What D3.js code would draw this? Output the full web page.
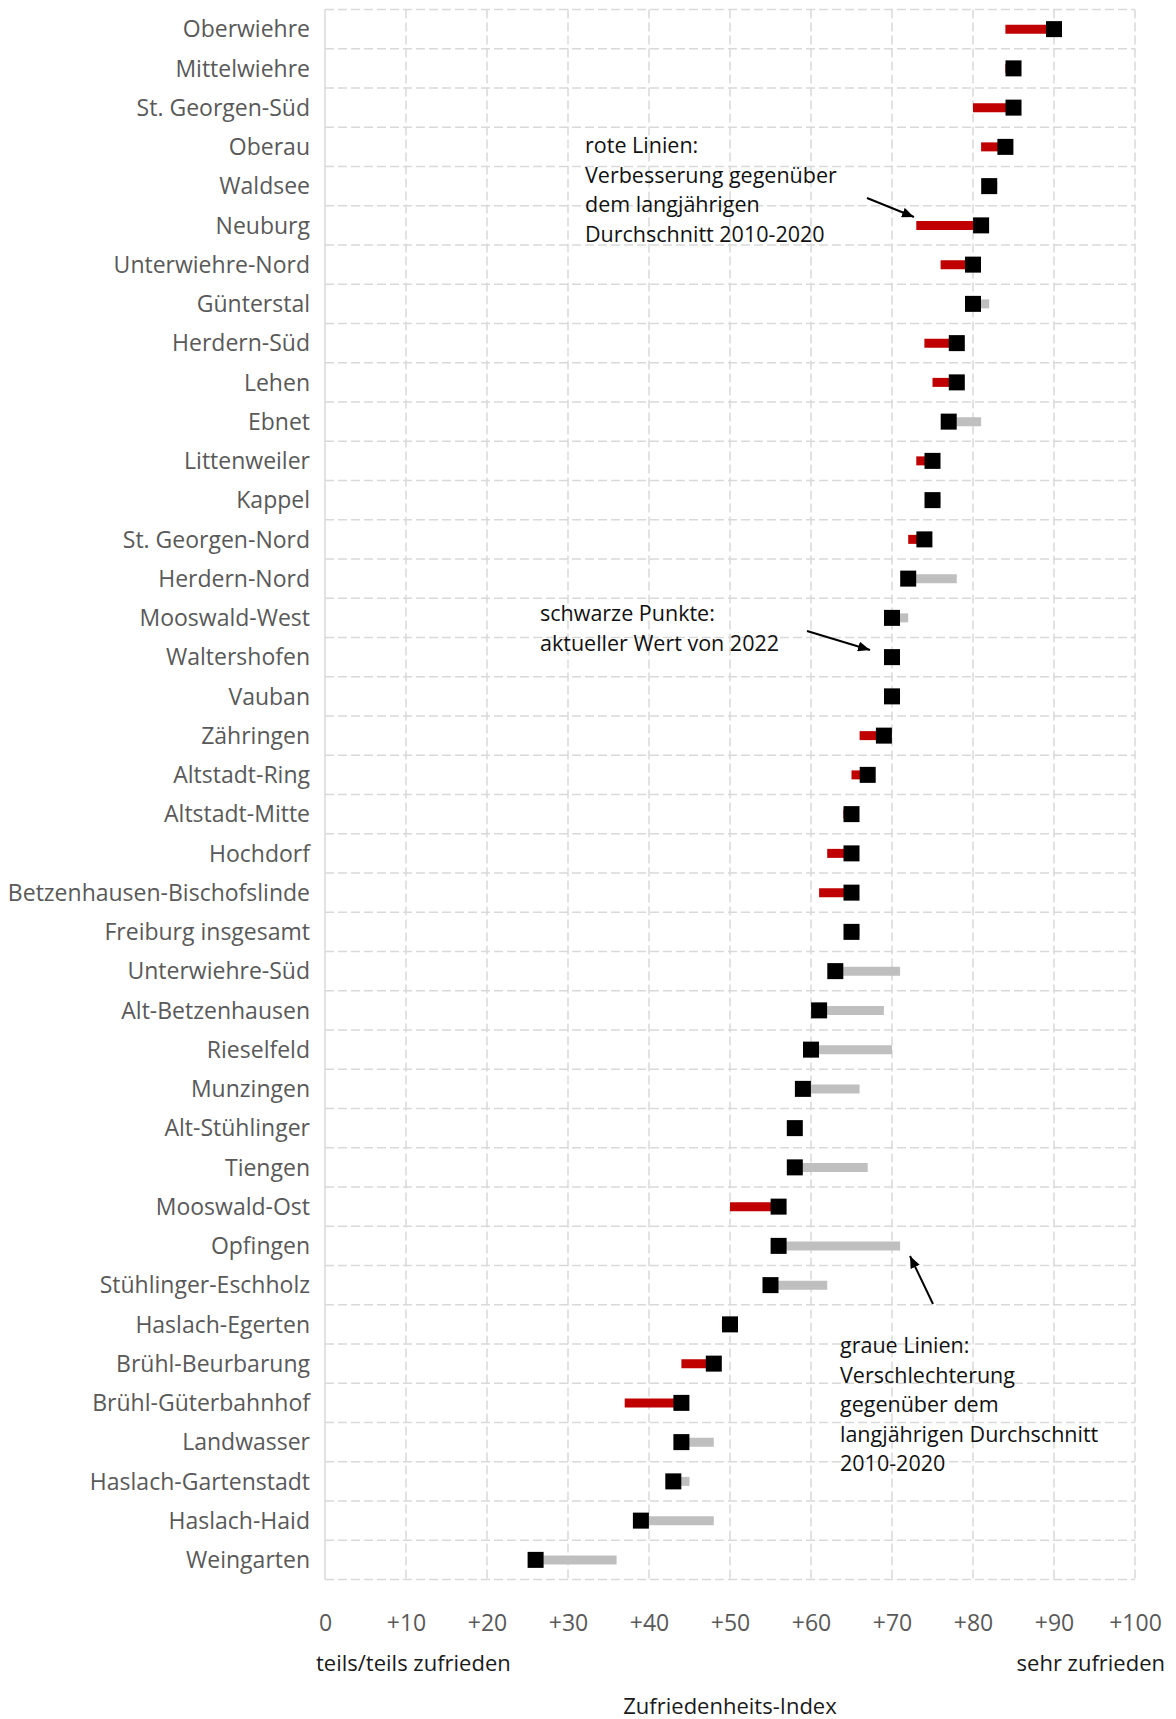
<!DOCTYPE html>
<html>
<head>
<meta charset="utf-8">
<script src="https://cdn.jsdelivr.net/npm/d3@7"></script>
<style>
body { margin: 0; background: #fff; }
svg text { font-family: "Open Sans", sans-serif; }
</style>
</head>
<body>
<div id="chart"></div>
<script>
// Stadtbezirke, sorted as in the chart
var categories = [
	"Oberwiehre", "Mittelwiehre", "St. Georgen-Süd", "Oberau", "Waldsee",
	"Neuburg", "Unterwiehre-Nord", "Günterstal", "Herdern-Süd", "Lehen",
	"Ebnet", "Littenweiler", "Kappel", "St. Georgen-Nord", "Herdern-Nord",
	"Mooswald-West", "Waltershofen", "Vauban", "Zähringen", "Altstadt-Ring",
	"Altstadt-Mitte", "Hochdorf", "Betzenhausen-Bischofslinde", "Freiburg insgesamt", "Unterwiehre-Süd",
	"Alt-Betzenhausen", "Rieselfeld", "Munzingen", "Alt-Stühlinger", "Tiengen",
	"Mooswald-Ost", "Opfingen", "Stühlinger-Eschholz", "Haslach-Egerten", "Brühl-Beurbarung",
	"Brühl-Güterbahnhof", "Landwasser", "Haslach-Gartenstadt", "Haslach-Haid", "Weingarten"
];

// aktueller Wert 2022 (schwarze Punkte)
var current_2022 = [
	90, 85, 85, 84, 82,
	81, 80, 80, 78, 78,
	77, 75, 75, 74, 72,
	70, 70, 70, 69, 67,
	65, 65, 65, 65, 63,
	61, 60, 59, 58, 58,
	56, 56, 55, 50, 48,
	44, 44, 43, 39, 26
];

// langjähriger Durchschnitt 2010-2020
var average_2010_2020 = [
	84, 84, 80, 81, 83,
	73, 76, 82, 74, 75,
	81, 73, 76, 72, 78,
	72, 70, 71, 66, 65,
	64, 62, 61, 66, 71,
	69, 70, 66, 58, 67,
	50, 71, 62, 49, 44,
	37, 48, 45, 48, 36
];

var x_ticks = [0, 10, 20, 30, 40, 50, 60, 70, 80, 90, 100];
var x_tick_labels = ["0", "+10", "+20", "+30", "+40", "+50", "+60", "+70", "+80", "+90", "+100"];

var width = 1176;
var height = 1719;

var plot_left = 325;
var plot_right = 1135;
var plot_top = 9.5;
var plot_bottom = 1579.5;

var grid_color = "#d9d9d9";
var red = "#c00000";
var grey = "#bfbfbf";
var marker_size = 16;
var line_width = 9;

var rows = categories.map(function(c, i) {
	return {name: c, now: current_2022[i], avg: average_2010_2020[i]};
});

var svg = d3.select("#chart")
	.append("svg")
	.attr("width", width)
	.attr("height", height);

var x = d3.scaleLinear().domain([0, 100]).range([plot_left, plot_right]);
var y = d3.scaleBand().domain(categories).range([plot_top, plot_bottom]);

var defs = svg.append("defs");
defs.append("marker")
	.attr("id", "arrow")
	.attr("viewBox", "0 0 12 10")
	.attr("refX", 12)
	.attr("refY", 5)
	.attr("markerWidth", 12)
	.attr("markerHeight", 10)
	.attr("markerUnits", "userSpaceOnUse")
	.attr("orient", "auto")
	.append("path")
	.attr("d", "M0,0 L12,5 L0,10 Z")
	.attr("fill", "#000");

// grid
var grid = svg.append("g").attr("class", "grid");

var row_lines = d3.range(categories.length + 1).map(function(i) {
	return plot_top + i * y.step();
});

grid.selectAll(".hline").data(row_lines)
	.enter().append("line")
	.attr("class", "hline")
	.attr("x1", plot_left)
	.attr("x2", plot_right)
	.attr("y1", function(d) { return d; })
	.attr("y2", function(d) { return d; })
	.style("stroke", grid_color)
	.style("stroke-width", 1.5)
	.style("stroke-dasharray", "9,4");

grid.selectAll(".vline").data(x_ticks)
	.enter().append("line")
	.attr("class", "vline")
	.attr("x1", function(d) { return x(d); })
	.attr("x2", function(d) { return x(d); })
	.attr("y1", plot_top)
	.attr("y2", plot_bottom)
	.style("stroke", grid_color)
	.style("stroke-width", 1.5)
	.style("stroke-dasharray", function(d) { return d == 0 ? null : "9,4"; });

// change lines
svg.append("g").selectAll("line").data(rows)
	.enter().append("line")
	.attr("x1", function(d) { return x(d.avg); })
	.attr("x2", function(d) { return x(d.now); })
	.attr("y1", function(d) { return y(d.name) + y.bandwidth() / 2; })
	.attr("y2", function(d) { return y(d.name) + y.bandwidth() / 2; })
	.style("stroke", function(d) { return d.now > d.avg ? red : grey; })
	.style("stroke-width", line_width);

// current values
svg.append("g").selectAll("rect").data(rows)
	.enter().append("rect")
	.attr("x", function(d) { return x(d.now) - marker_size / 2; })
	.attr("y", function(d) { return y(d.name) + y.bandwidth() / 2 - marker_size / 2; })
	.attr("width", marker_size)
	.attr("height", marker_size)
	.style("fill", "#000");

// axes
var y_axis = svg.append("g")
	.attr("transform", "translate(" + plot_left + ",0)")
	.call(d3.axisLeft(y).tickSize(0).tickPadding(15));
y_axis.select(".domain").remove();
y_axis.selectAll("text")
	.attr("dy", "0.36em")
	.style("font-size", "23px")
	.style("fill", "#595959");

var x_axis = svg.append("g")
	.attr("transform", "translate(0," + plot_bottom + ")")
	.call(d3.axisBottom(x).tickValues(x_ticks)
		.tickFormat(function(d, i) { return x_tick_labels[i]; })
		.tickSize(0).tickPadding(51));
x_axis.select(".domain").remove();
x_axis.selectAll("text")
	.attr("dy", "0")
	.style("font-size", "23px")
	.style("fill", "#595959");

svg.append("text")
	.attr("x", 316)
	.attr("y", 1671)
	.style("font-size", "22px")
	.style("fill", "#1a1a1a")
	.text("teils/teils zufrieden");

svg.append("text")
	.attr("x", 1165)
	.attr("y", 1671)
	.attr("text-anchor", "end")
	.style("font-size", "22px")
	.style("fill", "#1a1a1a")
	.text("sehr zufrieden");

svg.append("text")
	.attr("x", (plot_left + plot_right) / 2)
	.attr("y", 1714)
	.attr("text-anchor", "middle")
	.style("font-size", "22px")
	.style("fill", "#1a1a1a")
	.text("Zufriedenheits-Index");

// annotations
var notes = [
	{x: 585, y: 153, lines: ["rote Linien:", "Verbesserung gegenüber", "dem langjährigen", "Durchschnitt 2010-2020"]},
	{x: 540, y: 621, lines: ["schwarze Punkte:", "aktueller Wert von 2022"]},
	{x: 840, y: 1353, lines: ["graue Linien:", "Verschlechterung", "gegenüber dem", "langjährigen Durchschnitt", "2010-2020"]}
];

notes.forEach(function(n) {
	svg.append("text")
		.attr("x", n.x)
		.attr("y", n.y)
		.style("font-size", "21.5px")
		.style("fill", "#111")
		.selectAll("tspan").data(n.lines)
		.enter().append("tspan")
		.attr("x", n.x)
		.attr("dy", function(d, i) { return i == 0 ? 0 : 29.5; })
		.text(function(d) { return d; });
});

var arrows = [
	[867, 198, 914, 217],
	[807, 631, 870, 650],
	[933, 1304, 910, 1256]
];

svg.append("g").selectAll("line").data(arrows)
	.enter().append("line")
	.attr("x1", function(d) { return d[0]; })
	.attr("y1", function(d) { return d[1]; })
	.attr("x2", function(d) { return d[2]; })
	.attr("y2", function(d) { return d[3]; })
	.style("stroke", "#000")
	.style("stroke-width", 2)
	.attr("marker-end", "url(#arrow)");
</script>
</body>
</html>
